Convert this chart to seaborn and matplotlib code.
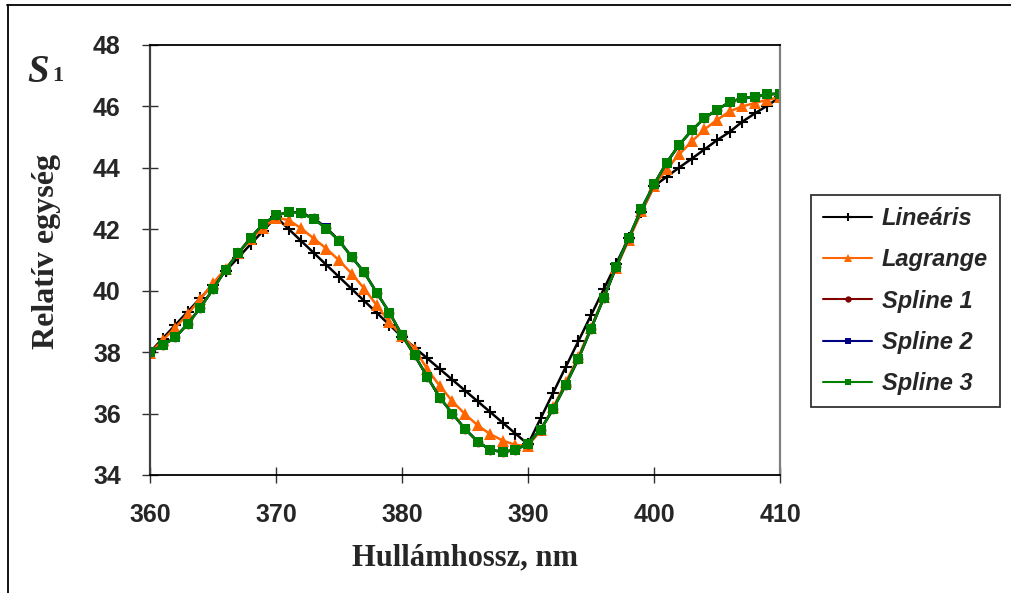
import matplotlib
matplotlib.use("Agg")
import matplotlib.pyplot as plt
from matplotlib.lines import Line2D
import seaborn as sns
import pandas as pd

# ---------------- data ----------------
wavelength = list(range(360, 411))

linearis = [38.00, 38.44, 38.88, 39.32, 39.76, 40.20, 40.64, 41.08, 41.52, 41.96,
            42.40, 42.01, 41.62, 41.23, 40.84, 40.45, 40.06, 39.67, 39.28, 38.89,
            38.50, 38.15, 37.80, 37.45, 37.10, 36.75, 36.40, 36.05, 35.70, 35.35,
            35.00, 35.84, 36.68, 37.52, 38.36, 39.20, 40.04, 40.88, 41.72, 42.56,
            43.40, 43.71, 44.01, 44.30, 44.60, 44.90, 45.17, 45.50, 45.77, 46.03,
            46.30]

lagrange = [37.98, 38.38, 38.80, 39.24, 39.74, 40.24, 40.72, 41.22, 41.68, 42.05,
            42.38, 42.30, 42.03, 41.70, 41.37, 40.99, 40.56, 40.07, 39.52, 38.98,
            38.53, 38.11, 37.45, 36.90, 36.40, 35.98, 35.62, 35.33, 35.12, 34.98,
            34.95, 35.45, 36.20, 37.02, 37.85, 38.80, 39.78, 40.75, 41.65, 42.58,
            43.40, 43.96, 44.44, 44.86, 45.25, 45.56, 45.84, 46.00, 46.11, 46.22,
            46.30]

spline1 = [38.00, 38.22, 38.48, 38.92, 39.45, 40.05, 40.68, 41.22, 41.73, 42.18,
           42.45, 42.57, 42.54, 42.36, 42.05, 41.64, 41.11, 40.60, 39.93, 39.29,
           38.55, 37.90, 37.20, 36.52, 36.00, 35.50, 35.09, 34.82, 34.75, 34.82,
           35.02, 35.48, 36.15, 36.94, 37.78, 38.76, 39.75, 40.78, 41.73, 42.66,
           43.46, 44.17, 44.75, 45.22, 45.62, 45.89, 46.14, 46.27, 46.32, 46.40,
           46.41]

spline2 = [38.00, 38.22, 38.48, 38.92, 39.45, 40.05, 40.68, 41.22, 41.73, 42.18,
           42.45, 42.56, 42.53, 42.34, 42.03, 41.63, 41.10, 40.60, 39.93, 39.29,
           38.55, 37.90, 37.20, 36.52, 36.00, 35.50, 35.09, 34.82, 34.75, 34.82,
           35.02, 35.48, 36.15, 36.94, 37.78, 38.76, 39.75, 40.78, 41.73, 42.66,
           43.46, 44.17, 44.75, 45.22, 45.62, 45.89, 46.14, 46.27, 46.32, 46.40,
           46.41]

spline3 = [38.00, 38.22, 38.48, 38.92, 39.45, 40.05, 40.68, 41.22, 41.73, 42.18,
           42.45, 42.56, 42.52, 42.33, 42.02, 41.62, 41.10, 40.60, 39.93, 39.29,
           38.55, 37.90, 37.20, 36.52, 36.00, 35.50, 35.09, 34.82, 34.75, 34.82,
           35.02, 35.48, 36.15, 36.94, 37.78, 38.76, 39.75, 40.78, 41.73, 42.66,
           43.46, 44.17, 44.75, 45.22, 45.62, 45.89, 46.14, 46.27, 46.32, 46.40,
           46.41]

series_names = ["Lineáris", "Lagrange", "Spline 1", "Spline 2", "Spline 3"]
x_ticks = [360, 370, 380, 390, 400, 410]
y_ticks = [34, 36, 38, 40, 42, 44, 46, 48]

# ---------------- style ----------------
sns.set_theme(style="white")
plt.rcParams["font.family"] = ["Liberation Sans", "DejaVu Sans"]

styles = {
    "Lineáris": dict(color="#000000", marker="+", ms=9, mew=1.5),
    "Lagrange": dict(color="#FF6600", marker="^", ms=9, mew=0),
    "Spline 1": dict(color="#800000", marker="o", ms=7, mew=0),
    "Spline 2": dict(color="#000080", marker="s", ms=7, mew=0),
    "Spline 3": dict(color="#008000", marker="s", ms=7, mew=0),
}

data = {"Lineáris": linearis, "Lagrange": lagrange, "Spline 1": spline1,
        "Spline 2": spline2, "Spline 3": spline3}

fig = plt.figure(figsize=(10.11, 5.93), dpi=100)
ax = fig.add_axes([150 / 1011, 1 - 475 / 593, 630 / 1011, 430 / 593])

for name in series_names:
    st = styles[name]
    df = pd.DataFrame({"x": wavelength, "y": data[name]})
    sns.lineplot(data=df, x="x", y="y", ax=ax, color=st["color"], linewidth=1.8,
                 marker=st["marker"], markersize=st["ms"], markeredgewidth=st["mew"],
                 markeredgecolor=st["color"], markerfacecolor=st["color"],
                 label=name, legend=False)

ax.set_xlim(360, 410)
ax.set_ylim(34, 48)
ax.set_xticks(x_ticks)
ax.set_yticks(y_ticks)
ax.grid(False)

for s in ["top", "bottom"]:
    ax.spines[s].set_color("black")
    ax.spines[s].set_linewidth(1.3)
for s in ["left", "right"]:
    ax.spines[s].set_color("#808080")
    ax.spines[s].set_linewidth(1.6)
ax.spines["left"].set_color("#404040")

ax.tick_params(axis="both", which="major", direction="inout", length=12, width=1.0,
               color="#303030", labelsize=18, left=True, bottom=True)
ax.tick_params(axis="y", pad=15)
ax.tick_params(axis="x", pad=14)
for lab in ax.get_xticklabels() + ax.get_yticklabels():
    lab.set_fontweight("bold")
    lab.set_family(["Liberation Sans", "DejaVu Sans"])

ax.set_xlabel("Hullámhossz, nm", fontsize=22, fontweight="bold",
              family=["Liberation Serif", "DejaVu Serif"])
ax.set_ylabel("Relatív egység", fontsize=23, fontweight="bold",
              family=["Liberation Serif", "DejaVu Serif"])
ax.xaxis.set_label_coords(0.5, -0.158)
ax.yaxis.set_label_coords(-0.142, 0.52)

# S1 label
fig.text(27 / 1011, 1 - 82 / 593, "S", fontsize=28, fontweight="bold", style="italic",
         family=["Liberation Serif", "DejaVu Serif"], ha="left", va="baseline")
fig.text(52 / 1011, 1 - 81 / 593, "1", fontsize=16, fontweight="bold",
         family=["Liberation Serif", "DejaVu Serif"], ha="left", va="baseline")

# legend
handles = []
for name in series_names:
    st = styles[name]
    handles.append(Line2D([0], [0], color=st["color"], linewidth=1.5, marker=st["marker"],
                          markersize=st["ms"] * 0.65, markeredgewidth=st["mew"],
                          markerfacecolor=st["color"], markeredgecolor=st["color"]))
leg = fig.legend(handles, series_names, loc="upper left",
                 bbox_to_anchor=(811 / 1011, 1 - 195 / 593),
                 prop=dict(family=["Liberation Sans", "DejaVu Sans"], weight="bold",
                           style="italic", size=17),
                 frameon=True, fancybox=False, handlelength=2.1, handletextpad=0.4,
                 labelspacing=0.78, borderpad=0.5, borderaxespad=0)
leg.get_frame().set_edgecolor("black")
leg.get_frame().set_linewidth(1.3)

# outer frame (top and left edges visible)
fig.add_artist(Line2D([7 / 1011, 1.0], [1 - 5 / 593, 1 - 5 / 593], color="black",
                      linewidth=1.3, transform=fig.transFigure))
fig.add_artist(Line2D([7.5 / 1011, 7.5 / 1011], [0.0, 1 - 5 / 593], color="black",
                      linewidth=1.3, transform=fig.transFigure))

fig.savefig("out.png", dpi=100, facecolor="white")
